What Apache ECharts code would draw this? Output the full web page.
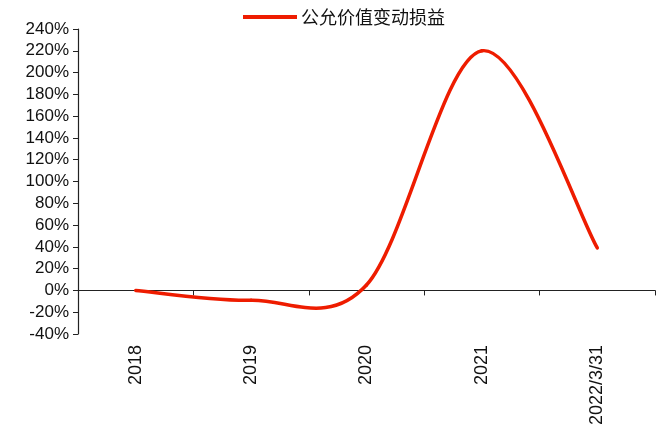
<!DOCTYPE html>
<html>
<head>
<meta charset="utf-8">
<script src="https://cdn.jsdelivr.net/npm/echarts@6/dist/echarts.min.js"></script>
<style>html,body{margin:0;padding:0;background:#fff}#c{width:667px;height:432px}</style>
</head>
<body>
<div id="c"></div>
<script>
var categories = ['2018', '2019', '2020', '2021', '2022/3/31'];
var values = [0, -9, 5, 220, 39];
var seriesName = '公允价值变动损益';
var yMin = -40, yMax = 240, yStep = 20;

var lineColor = '#ee1c00';

function renderSegment(params, api) {
  var i = params.dataIndex;
  var n = values.length;
  if (i >= n - 1) return null;
  function pt(k) {
    k = Math.max(0, Math.min(n - 1, k));
    return api.coord([k, values[k]]);
  }
  var p0 = pt(i - 1), p1 = pt(i), p2 = pt(i + 1), p3 = pt(i + 2);
  var t = 1 / 6;
  return {
    type: 'bezierCurve',
    shape: {
      x1: p1[0], y1: p1[1],
      x2: p2[0], y2: p2[1],
      cpx1: p1[0] + (p2[0] - p0[0]) * t,
      cpy1: p1[1] + (p2[1] - p0[1]) * t,
      cpx2: p2[0] - (p3[0] - p1[0]) * t,
      cpy2: p2[1] - (p3[1] - p1[1]) * t
    },
    style: { stroke: lineColor, lineWidth: 3.5, fill: null, lineCap: 'round' }
  };
}

var chart = echarts.init(document.getElementById('c'));
chart.setOption({
  animation: false,
  backgroundColor: '#fff',
  legend: {
    data: [seriesName],
    left: 238,
    top: 3,
    icon: 'rect',
    itemWidth: 54,
    itemHeight: 4,
    itemGap: 4,
    textStyle: { fontFamily: 'Noto Sans CJK SC', fontSize: 18, color: '#111', padding: [0, 0, 0, -1] }
  },
  grid: { left: 78, right: 12, top: 29, bottom: 98, containLabel: false },
  xAxis: [
    {
      type: 'category',
      data: categories,
      boundaryGap: true,
      axisLine: { onZero: true, lineStyle: { color: '#222', width: 1.2 } },
      axisTick: { show: true, alignWithLabel: false, length: 5, lineStyle: { color: '#222' } },
      axisLabel: { show: false },
      splitLine: { show: false }
    },
    {
      type: 'category',
      data: categories,
      position: 'bottom',
      boundaryGap: true,
      axisLine: { show: false, onZero: false },
      axisTick: { show: false },
      axisLabel: { show: true, rotate: 90, margin: 11, fontFamily: 'Liberation Sans', fontSize: 18, color: '#111', interval: 0 },
      splitLine: { show: false }
    }
  ],
  yAxis: {
    type: 'value',
    min: yMin, max: yMax, interval: yStep,
    axisLine: { show: true, lineStyle: { color: '#222', width: 1.2 } },
    axisTick: { show: true, length: 5, lineStyle: { color: '#222' } },
    axisLabel: { formatter: '{value}%', fontFamily: 'Liberation Sans', fontSize: 17, color: '#111', margin: 9 },
    splitLine: { show: false }
  },
  series: [{
    name: seriesName,
    type: 'custom',
    xAxisIndex: 0,
    yAxisIndex: 0,
    data: values.map(function (v, i) { return [i, v]; }),
    encode: { x: 0, y: 1 },
    renderItem: renderSegment,
    itemStyle: { color: lineColor },
    clip: false
  }]
});
</script>
</body>
</html>
